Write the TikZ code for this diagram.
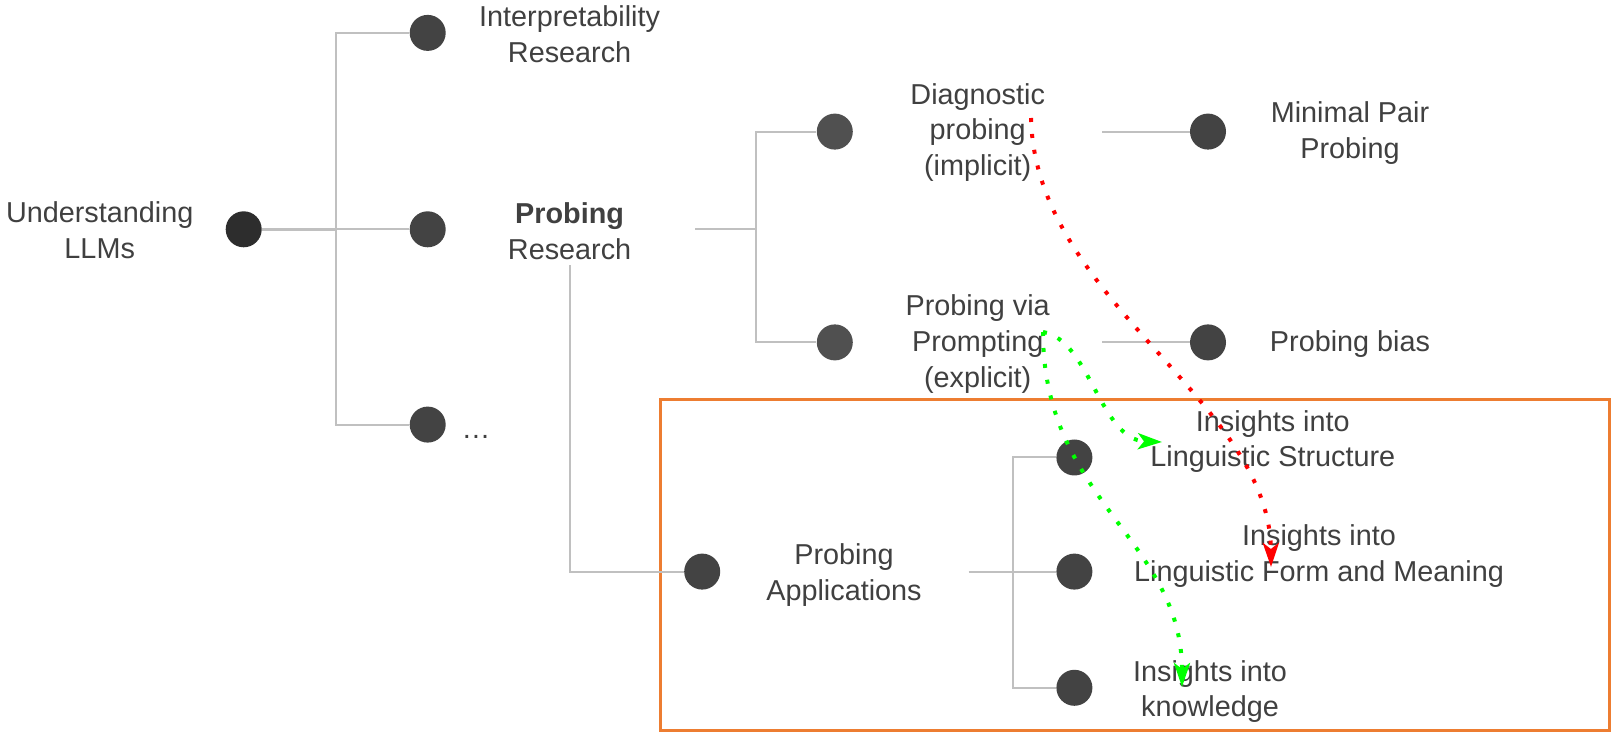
\documentclass[tikz,border=0pt]{standalone}
\usepackage{fontspec}
\setmainfont{Liberation Sans}
\usetikzlibrary{arrows.meta}
\definecolor{txt}{RGB}{64,64,64}
\definecolor{dotc}{RGB}{67,67,67}
\definecolor{dotdark}{RGB}{45,45,45}
\definecolor{dotlight}{RGB}{80,80,80}
\definecolor{linec}{RGB}{192,192,192}
\definecolor{orangebox}{RGB}{237,125,49}
\definecolor{redarr}{RGB}{255,0,0}
\definecolor{greenarr}{RGB}{0,255,0}
\begin{document}
\begin{tikzpicture}[x=0.5pt,y=-0.5pt,
  dotnode/.style={circle,fill=dotc,minimum size=18pt,inner sep=0pt},
  lbl/.style={text=txt,align=center,inner sep=0pt,font=\fontsize{14.4}{17.8}\selectfont},
  conn/.style={draw=linec,line width=1pt},
  dotarrow/.style={line width=2pt,dash pattern=on 2pt off 6pt,-{Stealth[length=12pt,width=8pt,inset=3pt]}},
  framebox/.style={draw=orangebox,line width=1.5pt}
]
\fill[white] (0,0) rectangle (1612,732);
\useasboundingbox (0,0) rectangle (1612,732);

% level 0 / 1
\node[lbl] (ulm) at (99.7,230.5) {Understanding\\LLMs};
\node[dotnode,fill=dotdark] (du) at (243.7,229.3) {};
\node[dotnode] (d1) at (427.7,32.9) {};
\node[dotnode] (d2) at (427.7,229.3) {};
\node[dotnode] (d3) at (427.7,424.6) {};
\node[lbl] (ir) at (569.6,34) {Interpretability\\Research};
\node[lbl] (pr) at (569.6,231.5) {\textbf{Probing}\\Research};
\node[lbl] (etc) at (476,437) {…};
\coordinate (j1) at (336.2,229.3);
\draw[conn,line width=1.5pt] (du) -- (j1);
\draw[conn] (j1) -- (d2);
\draw[conn] (j1) |- (d1);
\draw[conn] (j1) |- (d3);

% level 2
\node[dotnode,fill=dotlight] (d21) at (834.8,131.6) {};
\node[dotnode,fill=dotlight] (d22) at (834.8,342.4) {};
\coordinate (pre) at (695,229.3);
\coordinate (j2) at (755.7,229.3);
\draw[conn] (pre) -- (j2);
\draw[conn] (j2) |- (d21);
\draw[conn] (j2) |- (d22);
\node[lbl] (dp) at (977.7,132.5) {Diagnostic\\probing\\(implicit)};
\node[lbl] (pvp) at (977.7,344) {Probing via\\Prompting\\(explicit)};
\node[dotnode] (dmp) at (1208,131.6) {};
\node[dotnode] (dpb) at (1208,342.4) {};
\coordinate (dpe) at (1102,131.6);
\coordinate (pvpe) at (1102,342.4);
\draw[conn] (dpe) -- (dmp);
\draw[conn] (pvpe) -- (dpb);
\node[lbl] (mpp) at (1350,133) {Minimal Pair\\Probing};
\node[lbl] (pb) at (1350,344.5) {Probing bias};

% applications frame
\draw[framebox] (660,400) rectangle (1609,730);
\node[dotnode] (dpa) at (702.2,571.6) {};
\coordinate (prs) at (569.6,265.3);
\draw[conn] (prs) |- (dpa);
\node[lbl] (pa) at (844,575) {Probing\\Applications};
\coordinate (pae) at (968.5,571.6);
\coordinate (j3) at (1012.7,571.6);
\node[dotnode] (da1) at (1074.4,457.5) {};
\node[dotnode] (da2) at (1074.4,571.6) {};
\node[dotnode] (da3) at (1074.4,687.8) {};
\draw[conn] (pae) -- (da2);
\draw[conn] (j3) |- (da1);
\draw[conn] (j3) |- (da3);
\node[lbl] (ils) at (1272.8,441.5) {Insights into\\Linguistic Structure};
\node[lbl] (ifm) at (1319,556) {Insights into\\Linguistic Form and Meaning};
\node[lbl] (ik) at (1210,691.5) {Insights into\\knowledge};

% dotted arrows
\coordinate (rs) at (1031,118);
\coordinate (rt) at (1271,567);
\draw[dotarrow,redarr] (rs) .. controls (1035,300) and (1270,400) .. (rt);
\coordinate (gs) at (1043,332);
\coordinate (g1t) at (1162,442);
\coordinate (g2t) at (1182,687);
\draw[dotarrow,greenarr] (gs) .. controls (1090,340) and (1100,440) .. (g1t);
\draw[dotarrow,greenarr] (gs) .. controls (1043,500) and (1182,540) .. (g2t);
\end{tikzpicture}
\end{document}
